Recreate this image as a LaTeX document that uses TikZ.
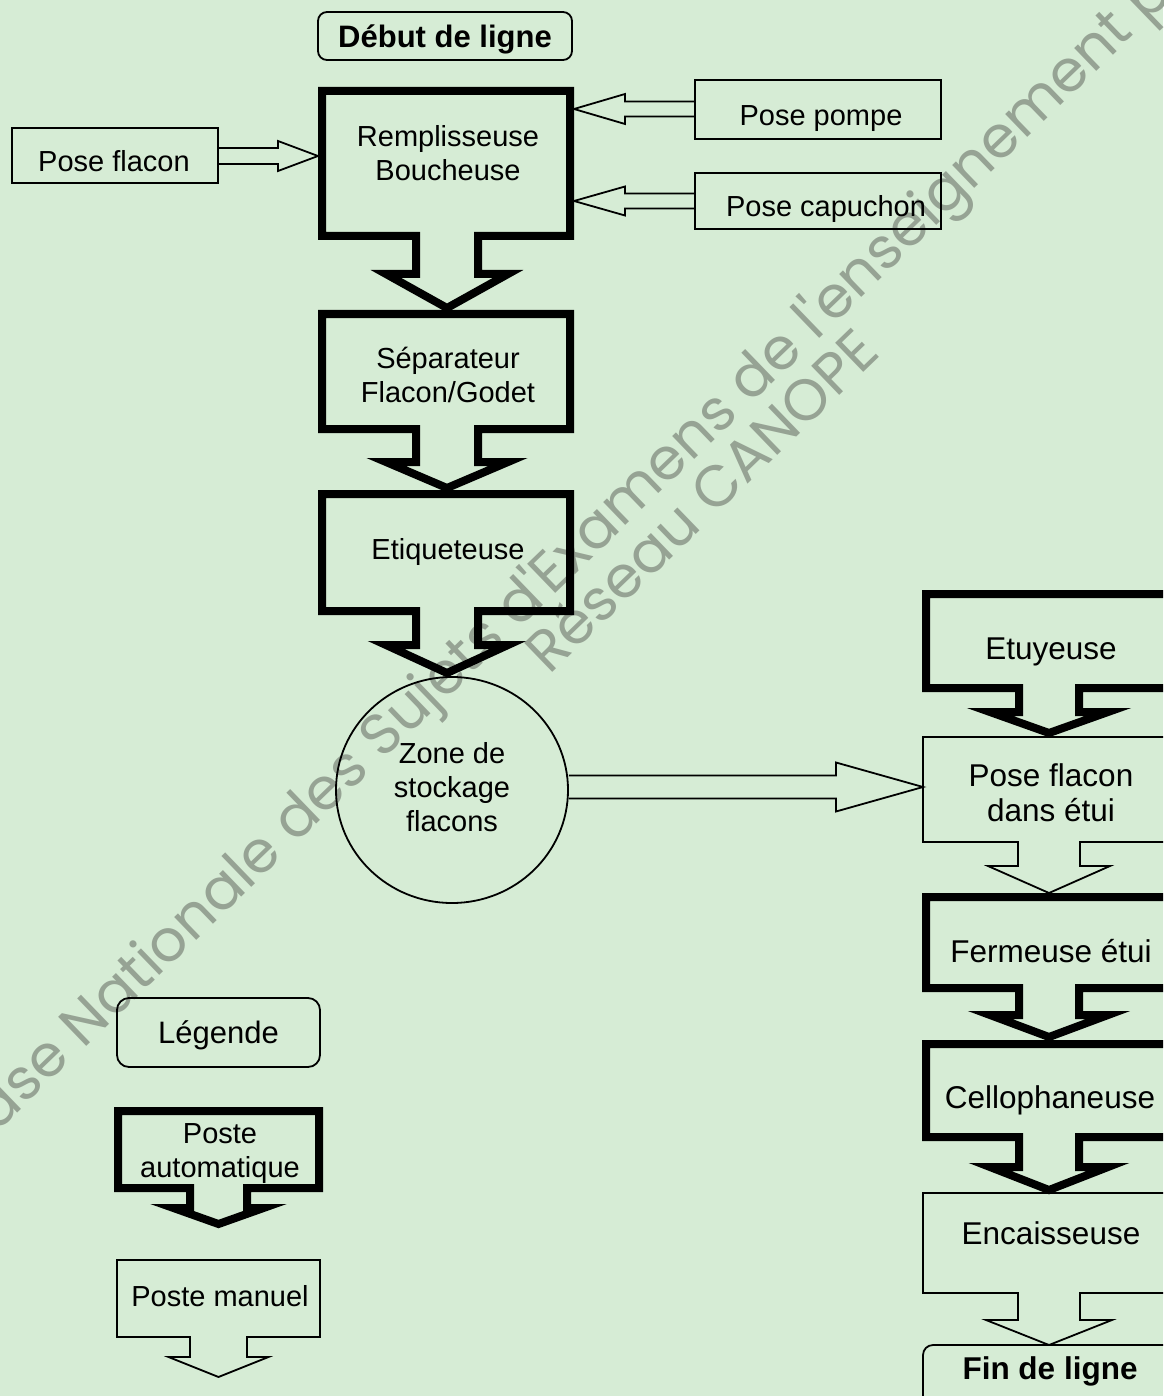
\documentclass[tikz,border=0pt]{standalone}
\usepackage{fontspec}
\setmainfont{Liberation Sans}
\newfontfamily\wmfont{Poppins}
\usetikzlibrary{shapes.geometric,calc}
\definecolor{bgcol}{RGB}{214,236,213}
\definecolor{wmcol}{RGB}{150,163,148}
% #1 x left, #2 x right, #3 y top, #4 y bottom, #5 centre x, #6 shaft half width, #7 wing half width, #8 wing y, #9 tip y
\newcommand\flowbox[9]{\draw (#1,#3) -- (#1,#4) -- ({#5-#6},#4) -- ({#5-#6},#8) -- ({#5-#7},#8) -- (#5,#9) -- ({#5+#7},#8) -- ({#5+#6},#8) -- ({#5+#6},#4) -- (#2,#4) -- (#2,#3) -- cycle;}
% hollow horizontal arrow from #1 to tip #2, shaft half #3, head half #4, head length #5
\newcommand\hollowH[5]{\draw let \p1=(#1), \p2=(#2), \n1={sign(\x2-\x1)} in
  ({\x1},{\y2+#3}) -- ({\x2-(\n1)*#5},{\y2+#3}) -- ({\x2-(\n1)*#5},{\y2+#4}) -- (\p2)
  -- ({\x2-(\n1)*#5},{\y2-#4}) -- ({\x2-(\n1)*#5},{\y2-#3}) -- ({\x1},{\y2-#3});}
\begin{document}
\begin{tikzpicture}[x=1pt,y=-1pt,line join=miter,
  thickline/.style={line width=8pt},
  thinline/.style={line width=1.8pt},
  lblL/.style={font=\fontsize{29}{34}\selectfont, align=center, inner sep=0pt},
  lblR/.style={font=\fontsize{31.5}{35}\selectfont, align=center, inner sep=0pt},
  oneline/.style={text depth=0pt},
  sidebox/.style={draw, line width=1.8pt, inner sep=0pt},
  wmtext/.style={font=\wmfont\fontsize{58}{70}\selectfont, text=wmcol, inner sep=0pt, rotate=44, anchor=base west}]
\useasboundingbox (0,0) rectangle (1163,1396);
\clip (0,0) rectangle (1163,1396);
\fill[bgcol] (0,0) rectangle (1163,1396);
% watermark
\node[wmtext] (wm1) at (-29,1158) {Base Nationale des Sujets d'Examens de l'enseignement professionnel};
\node[wmtext] (wm2) at (549,676) {Réseau CANOPE};
% thick (automatic) stations
\begin{scope}[thickline]
\flowbox{322}{570}{91}{236}{447}{31}{61}{274}{308}
\flowbox{322}{570}{314}{429}{447}{31}{61}{462}{488}
\flowbox{322}{570}{494}{611}{447}{31}{61}{645}{673}
\flowbox{926}{1180}{594}{688}{1049}{30}{59}{712}{733}
\flowbox{926}{1180}{897}{988}{1049}{30}{59}{1015}{1037}
\flowbox{926}{1180}{1044}{1137}{1049}{30}{59}{1167}{1190}
\flowbox{118}{319}{1111}{1188}{218.5}{28.5}{45}{1208}{1224}
\end{scope}
% thin (manual) stations
\begin{scope}[thinline]
\flowbox{923}{1180}{737}{842}{1049}{31}{61}{866}{893}
\flowbox{923}{1180}{1193}{1293}{1049}{31}{63}{1320}{1345}
\flowbox{117}{320}{1260}{1337}{218.5}{28.5}{50}{1357}{1377}
\draw[rounded corners=10pt] (923,1345) rectangle (1180,1430);
\end{scope}
% text of the stations
\node[lblL] (remp) at (448,153.5) {Remplisseuse\\Boucheuse};
\node[lblL] (sep) at (448,375) {Séparateur\\Flacon/Godet};
\node[lblL, oneline] (etiq) at (448,549) {Etiqueteuse};
\node[lblR, oneline] (etuy) at (1051,649) {Etuyeuse};
\node[lblR] (pfde) at (1051,793) {Pose flacon\\dans étui};
\node[lblR, oneline] (ferm) at (1051,951) {Fermeuse étui};
\node[lblR, oneline] (cello) at (1050,1097) {Cellophaneuse};
\node[lblR, oneline] (encais) at (1051,1233) {Encaisseuse};
\node[lblR, oneline, font=\bfseries\fontsize{31.5}{35}\selectfont] (fin) at (1050,1368) {Fin de ligne};
\node[lblL] (pauto) at (220,1154) {Poste\\automatique};
\node[lblL, oneline] (pman) at (220,1296) {Poste manuel};
% other nodes
\node[sidebox, oneline, rounded corners=9pt, minimum width=254pt, minimum height=48pt, font=\bfseries\fontsize{31}{36}\selectfont] (debut) at (445,36) {Début de ligne};
\node[sidebox, oneline, rounded corners=12pt, minimum width=203pt, minimum height=69pt, font=\fontsize{31}{36}\selectfont] (legende) at (218.5,1032.5) {Légende};
\node[sidebox, minimum width=206pt, minimum height=55pt] (pflacon) at (115,155.5) {};
\node[lblL, oneline] (pflaconT) at (114,161) {Pose flacon};
\node[sidebox, minimum width=246pt, minimum height=59pt] (pompe) at (818,109.5) {};
\node[lblL, oneline] (pompeT) at (821,116) {Pose pompe};
\node[sidebox, minimum width=246pt, minimum height=56pt] (capu) at (818,201) {};
\node[lblL, oneline] (capuT) at (826,206) {Pose capuchon};
\node[draw, line width=1.8pt, ellipse, minimum width=232pt, minimum height=226pt, inner sep=0pt] (zone) at (452,790) {};
\node[lblL] (zoneT) at (452,787) {Zone de\\stockage\\flacons};
% connector targets
\coordinate (rempW) at (318,156);
\coordinate (rempE1) at (574,109);
\coordinate (rempE2) at (574,201);
\coordinate (etuiW) at (923,787);
% hollow connectors
\begin{scope}[thinline]
\hollowH{pflacon.east}{rempW}{8}{15}{40}
\hollowH{pompe.west}{rempE1}{7.5}{15}{51}
\hollowH{capu.west}{rempE2}{7.5}{14.5}{51}
\hollowH{zone.east}{etuiW}{11.5}{24.5}{87}
\end{scope}
\end{tikzpicture}
\end{document}
